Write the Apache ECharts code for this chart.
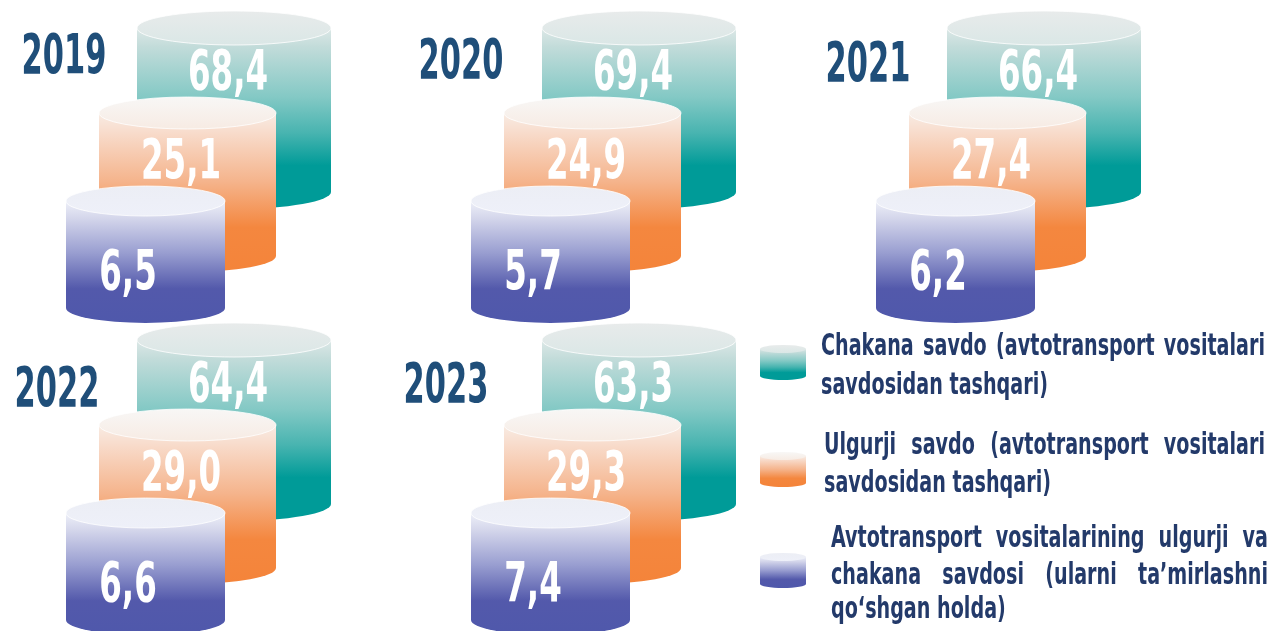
<!DOCTYPE html>
<html>
<head>
<meta charset="utf-8">
<script src="https://cdn.jsdelivr.net/npm/echarts@6/dist/echarts.min.js"></script>
<style>
html, body { margin: 0; padding: 0; background: #fff; }
#main { width: 1281px; height: 631px; }
</style>
</head>
<body>
<div id="main"></div>
<script>
// data
const years = ['2019', '2020', '2021', '2022', '2023'];
const retail = [68.4, 69.4, 66.4, 64.4, 63.3];
const wholesale = [25.1, 24.9, 27.4, 29.0, 29.3];
const vehicles = [6.5, 5.7, 6.2, 6.6, 7.4];
const legendLines = [
    ['Chakana savdo (avtotransport vositalari', 'savdosidan tashqari)'],
    ['Ulgurji savdo (avtotransport vositalari', 'savdosidan tashqari)'],
    ['Avtotransport vositalarining ulgurji va', 'chakana savdosi (ularni ta’mirlashni', 'qo‘shgan holda)']
];

// layout of panels (column / row of each year)
const panelCol = [0, 1, 2, 0, 1];
const panelRow = [0, 0, 0, 1, 1];
const yearNudge = [[-170, -101], [-178, -96], [-176, -93], [-177, -80], [-193, -84]];

const FONT = '"DejaVu Sans Condensed", "DejaVu Sans", sans-serif';
const TEXT = '#233a6a';

function grad(stops) {
    return new echarts.graphic.LinearGradient(0, 0, 0, 1,
        stops.map(s => ({offset: s[0], color: s[1]})));
}

// cylinder shapes, relative to the panel anchor
const cyl = [
    {dx: 0, rx: 97, top: -132, bot: 32, ry: 17, lx: -6, ly: -85,
     body: [[0, '#dde8e7'], [0.1, '#c3dcda'], [0.38, '#84c9c5'], [0.58, '#48b4b0'], [0.76, '#009b98'], [1, '#009b98']],
     cap: [[0, '#e8ebeb'], [1, '#dae7e6']]},
    {dx: -46.5, rx: 88.5, top: -47, bot: 96, ry: 16, lx: -53, ly: 4,
     body: [[0, '#f8ece4'], [0.12, '#f8dccc'], [0.43, '#f5b48c'], [0.72, '#f4873f'], [1, '#f4843a']],
     cap: [[0, '#f8f7f6'], [1, '#f7ebe3']]},
    {dx: -88.5, rx: 79.5, top: 41, bot: 148, ry: 15, lx: -106, ly: 115,
     body: [[0, '#eef0f8'], [0.14, '#d4d6eb'], [0.42, '#9a9fd1'], [0.72, '#5359ab'], [1, '#4f58ab']],
     cap: [[0, '#eceef5'], [1, '#eef0f9']]}
];

function cylinderShapes(cx, rx, yt, yb, ry, c, stroke) {
    const x0 = cx - rx, x1 = cx + rx;
    return [
        {type: 'path', shape: {pathData: `M${x0} ${yt}L${x0} ${yb}A${rx} ${ry} 0 0 0 ${x1} ${yb}L${x1} ${yt}Z`},
         style: {fill: grad(c.body)}},
        {type: 'path', shape: {pathData: `M${x0} ${yt}A${rx} ${ry} 0 1 0 ${x1} ${yt}A${rx} ${ry} 0 1 0 ${x0} ${yt}Z`},
         style: {fill: grad(c.cap), stroke: stroke ? 'rgba(255,255,255,0.8)' : null, lineWidth: 1}}
    ];
}

function cylinderItem(s) {
    return function (params, api) {
        const p = api.coord([api.value(0), api.value(1)]);
        const c = cyl[s];
        const label = api.value(2).toFixed(1).replace('.', ',');
        const children = cylinderShapes(p[0] + c.dx, c.rx, p[1] + c.top, p[1] + c.bot, c.ry, c, true);
        children.push({type: 'text', x: p[0] + c.lx, y: p[1] + c.ly, scaleX: 0.82, scaleY: 1.25,
            style: {text: label, fill: '#fff', fontSize: 44, fontWeight: 'bold',
                    fontFamily: FONT, align: 'center', verticalAlign: 'middle'}});
        return {type: 'group', children: children};
    };
}

function yearItem(params, api) {
    const p = api.coord([api.value(0), api.value(1)]);
    const n = yearNudge[params.dataIndex];
    return {
        type: 'text', x: p[0] + n[0], y: p[1] + n[1], scaleX: 0.77, scaleY: 1.25,
        style: {text: years[params.dataIndex], fill: '#1f4e79', fontSize: 44, fontWeight: 'bold',
                fontFamily: FONT, align: 'center', verticalAlign: 'middle'}
    };
}

function seriesData(values) {
    return values.map((v, i) => [panelCol[i], panelRow[i], v]);
}

// legend, justified like the original text block
const legendIcon = [349, 456, 557];
const legendX = [[821, 1265], [824, 1265], [831, 1268]];
const legendY = [[347, 386], [446, 484], [539, 576, 610]];
const LSX = 0.76, LSY = 1.1;

function legendIconItem(params, api) {
    const s = params.dataIndex;
    return {type: 'group', children: cylinderShapes(783, 23, legendIcon[s], legendIcon[s] + 27, 4, cyl[s], false)};
}

function wordWidth(w) {
    const t = new echarts.graphic.Text({style: {text: w, fontSize: 28, fontWeight: 'bold', fontFamily: FONT}});
    return t.getBoundingRect().width * LSX;
}

function lineElements(text, x0, x1, y, justify) {
    const words = text.split(' ');
    const widths = words.map(wordWidth);
    const total = widths.reduce((a, b) => a + b, 0);
    const gap = justify && words.length > 1 ? (x1 - x0 - total) / (words.length - 1) : wordWidth('a b') - wordWidth('ab');
    let x = x0;
    return words.map((w, i) => {
        const el = {type: 'text', x: x, y: y, scaleX: LSX, scaleY: LSY, silent: true,
            style: {text: w, fill: TEXT, fontSize: 28, fontWeight: 'bold', fontFamily: FONT, verticalAlign: 'middle'}};
        x += widths[i] + gap;
        return el;
    });
}

const graphics = [];
legendLines.forEach((lines, s) => {
    lines.forEach((line, k) => {
        graphics.push(...lineElements(line, legendX[s][0], legendX[s][1], legendY[s][k], k < lines.length - 1));
    });
});

let chart = echarts.init(document.getElementById('main'));
option = {
    animation: false,
    grid: {left: 31.5, top: 4, width: 1215, height: 624},
    xAxis: {type: 'category', data: ['0', '1', '2'], show: false},
    yAxis: {type: 'category', data: ['0', '1'], inverse: true, show: false},
    graphic: graphics,
    series: [
        {name: legendLines[0].join(' '), type: 'custom', renderItem: cylinderItem(0), data: seriesData(retail), silent: true},
        {name: legendLines[1].join(' '), type: 'custom', renderItem: cylinderItem(1), data: seriesData(wholesale), silent: true},
        {name: legendLines[2].join(' '), type: 'custom', renderItem: cylinderItem(2), data: seriesData(vehicles), silent: true},
        {name: 'years', type: 'custom', renderItem: yearItem, data: seriesData(years.map(Number)), silent: true},
        {name: 'legend', type: 'custom', coordinateSystem: 'none', renderItem: legendIconItem, data: [0, 1, 2], silent: true}
    ]
};
chart.setOption(option);
</script>
</body>
</html>
